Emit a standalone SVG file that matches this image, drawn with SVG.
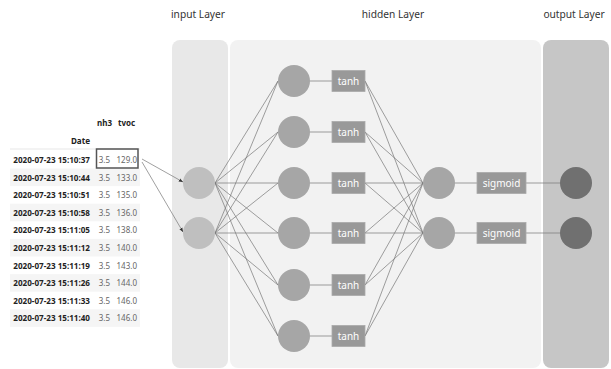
<svg xmlns="http://www.w3.org/2000/svg" width="611" height="369" viewBox="0 0 611 369">
<defs>
<style>
text{font-family:"Noto Sans","Open Sans","Liberation Sans",sans-serif}
.title{font-size:10.2px;fill:#333;text-anchor:middle}
.th{font-size:8px;font-weight:bold;fill:#222}
.dt{font-size:8.1px;font-weight:bold;fill:#222;text-anchor:end}
.v{font-size:8px;fill:#666;text-anchor:end}
.box{fill:#999;stroke:#aaa;stroke-width:0.8}
.bt{font-size:10px;fill:#fff;text-anchor:middle;dominant-baseline:central}
.in{fill:#bfbfbf}
.hid{fill:#a6a6a6}
.out{fill:#707070}
.c line{stroke:#777;stroke-width:0.7}
</style>
<marker id="ah" viewBox="0 0 10 10" refX="10" refY="5" markerWidth="6" markerHeight="6" orient="auto"><path d="M0,1 L10,5 L0,9 z" fill="#333"/></marker>
</defs>
<rect width="611" height="369" fill="#fff"/>
<g id="titles">
<text class="title" x="198" y="18">input Layer</text>
<text class="title" x="393" y="18">hidden Layer</text>
<text class="title" x="574" y="18">output Layer</text>
</g>
<g id="panels">
<rect x="172" y="40" width="56" height="328" rx="8" fill="#e8e8e8"/>
<rect x="230" y="40" width="311" height="328" rx="8" fill="#f2f2f2"/>
<rect x="543" y="40" width="66" height="328" rx="8" fill="#c6c6c6"/>
</g>
<g id="table">
<text class="th" x="97" y="126">nh3</text>
<text class="th" x="118" y="126">tvoc</text>
<text class="dt" x="90" y="144">Date</text>
<line x1="10" y1="149" x2="140" y2="149" stroke="#ddd" stroke-width="0.7"/>
<rect x="10" y="168.5" width="130" height="17.6" fill="#f5f5f5"/>
<rect x="10" y="203.7" width="130" height="17.6" fill="#f5f5f5"/>
<rect x="10" y="238.9" width="130" height="17.6" fill="#f5f5f5"/>
<rect x="10" y="274.1" width="130" height="17.6" fill="#f5f5f5"/>
<rect x="10" y="309.3" width="130" height="17.6" fill="#f5f5f5"/>
<g>
<text class="dt" x="90" y="163">2020-07-23 15:10:37</text><text class="v" x="110" y="163">3.5</text><text class="v" x="137" y="163">129.0</text>
<text class="dt" x="90" y="180.6">2020-07-23 15:10:44</text><text class="v" x="110" y="180.6">3.5</text><text class="v" x="137" y="180.6">133.0</text>
<text class="dt" x="90" y="198.2">2020-07-23 15:10:51</text><text class="v" x="110" y="198.2">3.5</text><text class="v" x="137" y="198.2">135.0</text>
<text class="dt" x="90" y="215.8">2020-07-23 15:10:58</text><text class="v" x="110" y="215.8">3.5</text><text class="v" x="137" y="215.8">136.0</text>
<text class="dt" x="90" y="233.4">2020-07-23 15:11:05</text><text class="v" x="110" y="233.4">3.5</text><text class="v" x="137" y="233.4">138.0</text>
<text class="dt" x="90" y="251">2020-07-23 15:11:12</text><text class="v" x="110" y="251">3.5</text><text class="v" x="137" y="251">140.0</text>
<text class="dt" x="90" y="268.6">2020-07-23 15:11:19</text><text class="v" x="110" y="268.6">3.5</text><text class="v" x="137" y="268.6">143.0</text>
<text class="dt" x="90" y="286.2">2020-07-23 15:11:26</text><text class="v" x="110" y="286.2">3.5</text><text class="v" x="137" y="286.2">144.0</text>
<text class="dt" x="90" y="303.8">2020-07-23 15:11:33</text><text class="v" x="110" y="303.8">3.5</text><text class="v" x="137" y="303.8">146.0</text>
<text class="dt" x="90" y="321.4">2020-07-23 15:11:40</text><text class="v" x="110" y="321.4">3.5</text><text class="v" x="137" y="321.4">146.0</text>
</g>
<rect x="96.5" y="149" width="41.5" height="19" fill="none" stroke="#555" stroke-width="1.5"/>
</g>
<g id="connectors" class="c">
<line x1="142" y1="159" x2="183" y2="182" marker-end="url(#ah)"/>
<line x1="142" y1="162" x2="183" y2="232" marker-end="url(#ah)"/>
<line x1="215" y1="183" x2="278" y2="81"/><line x1="215" y1="183" x2="278" y2="132"/><line x1="215" y1="183" x2="278" y2="183"/><line x1="215" y1="183" x2="278" y2="233"/><line x1="215" y1="183" x2="278" y2="285"/><line x1="215" y1="183" x2="278" y2="336"/>
<line x1="215" y1="233" x2="278" y2="81"/><line x1="215" y1="233" x2="278" y2="132"/><line x1="215" y1="233" x2="278" y2="183"/><line x1="215" y1="233" x2="278" y2="233"/><line x1="215" y1="233" x2="278" y2="285"/><line x1="215" y1="233" x2="278" y2="336"/>
<line x1="310" y1="81" x2="332" y2="81"/><line x1="310" y1="132" x2="332" y2="132"/><line x1="310" y1="183" x2="332" y2="183"/><line x1="310" y1="233" x2="332" y2="233"/><line x1="310" y1="285" x2="332" y2="285"/><line x1="310" y1="336" x2="332" y2="336"/>
<line x1="365" y1="81" x2="423" y2="183"/><line x1="365" y1="132" x2="423" y2="183"/><line x1="365" y1="183" x2="423" y2="183"/><line x1="365" y1="233" x2="423" y2="183"/><line x1="365" y1="285" x2="423" y2="183"/><line x1="365" y1="336" x2="423" y2="183"/>
<line x1="365" y1="81" x2="423" y2="233"/><line x1="365" y1="132" x2="423" y2="233"/><line x1="365" y1="183" x2="423" y2="233"/><line x1="365" y1="233" x2="423" y2="233"/><line x1="365" y1="285" x2="423" y2="233"/><line x1="365" y1="336" x2="423" y2="233"/>
<line x1="455" y1="183" x2="477" y2="183"/><line x1="455" y1="233" x2="477" y2="233"/>
<line x1="526" y1="183" x2="560" y2="183"/><line x1="526" y1="233" x2="560" y2="233"/>
</g>
<g id="in1"><circle class="in" cx="199" cy="183" r="16"/></g>
<g id="in2"><circle class="in" cx="199" cy="233" r="16"/></g>
<g id="h1"><circle class="hid" cx="294" cy="81" r="16"/></g>
<g id="h2"><circle class="hid" cx="294" cy="132" r="16"/></g>
<g id="h3"><circle class="hid" cx="294" cy="183" r="16"/></g>
<g id="h4"><circle class="hid" cx="294" cy="233" r="16"/></g>
<g id="h5"><circle class="hid" cx="294" cy="285" r="16"/></g>
<g id="h6"><circle class="hid" cx="294" cy="336" r="16"/></g>
<g id="t1"><rect class="box" x="332" y="70.5" width="33" height="21"/><text class="bt" x="348.5" y="81">tanh</text></g>
<g id="t2"><rect class="box" x="332" y="121.5" width="33" height="21"/><text class="bt" x="348.5" y="132">tanh</text></g>
<g id="t3"><rect class="box" x="332" y="172.5" width="33" height="21"/><text class="bt" x="348.5" y="183">tanh</text></g>
<g id="t4"><rect class="box" x="332" y="222.5" width="33" height="21"/><text class="bt" x="348.5" y="233">tanh</text></g>
<g id="t5"><rect class="box" x="332" y="274.5" width="33" height="21"/><text class="bt" x="348.5" y="285">tanh</text></g>
<g id="t6"><rect class="box" x="332" y="325.5" width="33" height="21"/><text class="bt" x="348.5" y="336">tanh</text></g>
<g id="n1"><circle class="hid" cx="439" cy="183" r="16"/></g>
<g id="n2"><circle class="hid" cx="439" cy="233" r="16"/></g>
<g id="s1"><rect class="box" x="477" y="172.5" width="49" height="21"/><text class="bt" x="501.5" y="183">sigmoid</text></g>
<g id="s2"><rect class="box" x="477" y="222.5" width="49" height="21"/><text class="bt" x="501.5" y="233">sigmoid</text></g>
<g id="o1"><circle class="out" cx="576" cy="183" r="16"/></g>
<g id="o2"><circle class="out" cx="576" cy="233" r="16"/></g>
</svg>
